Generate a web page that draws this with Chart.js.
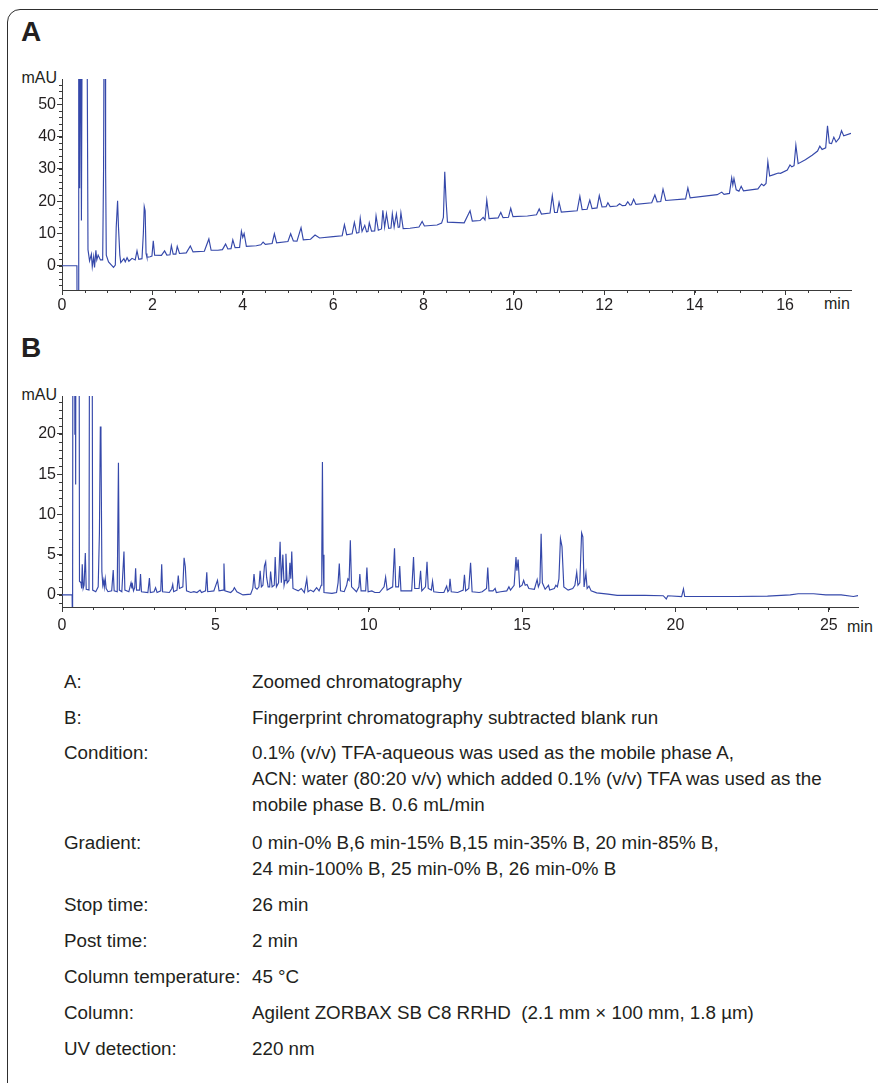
<!DOCTYPE html>
<html>
<head>
<meta charset="utf-8">
<script src="https://cdn.jsdelivr.net/npm/chart.js@4.4.1/dist/chart.umd.min.js"></script>
<style>
  html, body { margin: 0; padding: 0; background: #fff; }
  body { width: 878px; height: 1083px; position: relative; overflow: hidden;
         font-family: "Liberation Sans", Arial, sans-serif; color: #231f20; }
  .frame { position: absolute; left: 7px; top: 9px; width: 900px; height: 1100px;
           border: 1.5px solid #2e2e2e; border-radius: 13px; }
  .panel { position: absolute; left: 21px; font-weight: bold; font-size: 28px; line-height: 28px; }
  .unit { position: absolute; font-size: 16px; line-height: 16px; }
  canvas { position: absolute; left: 0; }
  .row { position: absolute; font-size: 18.8px; line-height: 26px; white-space: pre; }
  .lab { left: 64px; }
  .val { left: 252px; }
</style>
</head>
<body>
<div class="frame"></div>
<div class="panel" style="top:18px">A</div>
<div class="panel" style="top:334px">B</div>

<div class="unit" style="left:0;width:57px;text-align:right;top:70px">mAU</div>
<div class="unit" style="left:824px;top:296px">min</div>
<div class="unit" style="left:0;width:57px;text-align:right;top:387px">mAU</div>
<div class="unit" style="left:847px;top:619px">min</div>

<canvas id="chartA" width="878" height="270" style="top:60px"></canvas>
<canvas id="chartB" width="878" height="260" style="top:380px"></canvas>

<div id="notes"></div>

<script>
// panel A: zoomed chromatogram (time in min, signal in mAU)
const timeA = [0, 0.33, 0.335, 0.355, 0.37, 0.39, 0.41, 0.43, 0.45, 0.55, 0.575,
  0.61, 0.65, 0.67, 0.70, 0.72, 0.75, 0.77, 0.80, 0.85, 0.90, 0.92, 0.935, 0.955, 0.965, 0.98,
  1.03, 1.14, 1.18, 1.20, 1.23, 1.25, 1.28, 1.30, 1.37, 1.40, 1.44, 1.48, 1.55, 1.62, 1.66, 1.70,
  1.77, 1.80, 1.82, 1.84, 1.86, 1.88, 1.95, 1.99, 2.02, 2.05,
  2.2, 2.27, 2.32, 2.39, 2.42, 2.46, 2.52, 2.55, 2.6, 2.75, 2.84, 2.9, 3.15, 3.25, 3.3, 3.45,
  3.55, 3.62, 3.67, 3.74, 3.78, 3.83, 3.93, 3.97, 4.0, 4.03, 4.08, 4.3, 4.4, 4.45, 4.5, 4.65,
  4.70, 4.75, 5.0, 5.06, 5.12, 5.2, 5.29, 5.34, 5.5, 5.6, 5.7, 6.0, 6.2, 6.25, 6.3, 6.42,
  6.47, 6.52, 6.57, 6.60, 6.64, 6.70, 6.74, 6.77, 6.80, 6.85, 6.92, 6.95, 7.0, 7.07, 7.10,
  7.14, 7.18, 7.23, 7.28, 7.31, 7.35, 7.40, 7.44, 7.47, 7.50, 7.55, 7.7, 7.9, 7.97, 8.02,
  8.3, 8.4, 8.44, 8.47, 8.5, 8.53, 8.9, 9.03, 9.08, 9.25, 9.32, 9.36, 9.40, 9.45, 9.65, 9.71,
  9.76, 9.88, 9.93, 9.98, 10.3, 10.5, 10.56, 10.61, 10.8, 10.85, 10.9, 10.96, 11.0, 11.05,
  11.4, 11.46, 11.51, 11.62, 11.68, 11.73, 11.84, 11.89, 11.95, 12.04, 12.08, 12.13, 12.28,
  12.34, 12.4, 12.47, 12.52, 12.57, 12.6, 12.65, 12.7, 13.05, 13.12, 13.17, 13.25, 13.30,
  13.36, 13.8, 13.85, 13.9, 14.5, 14.6, 14.65, 14.77, 14.82, 14.845, 14.87, 14.92, 14.98,
  15.03, 15.08, 15.4, 15.48, 15.53, 15.58, 15.62, 15.66, 15.75, 15.85, 15.9, 16.05, 16.11,
  16.15, 16.2, 16.24, 16.29, 16.45, 16.6, 16.72, 16.77, 16.82, 16.9, 16.94, 16.98, 17.03,
  17.08, 17.13, 17.2, 17.25, 17.3, 17.46];
const mauA = [0, 0, -20, -20, 90, 24, 90, 14, 90, 90, 5,
  1.5, 3.6, -0.3, 2.8, -0.5, 4.8, 1.8, 3.3, 1.8, 1.8, 30, 90, 90, 30, 3.3,
  1.2, -0.5, 0.2, 12, 20.1, 12, 3.3, 1, 2.2, 1.2, 2.5, 1.4, 2.3, 1.8, 4.6, 2,
  2.2, 10, 18.3, 17, 3.8, 2.6, 2.8, 3, 7.7, 3.3,
  3.2, 4.6, 3.3, 3.4, 6.2, 3.6, 3.6, 6.0, 3.8, 4.0, 6.1, 4.3, 4.5, 8.3, 4.8, 4.8,
  5.0, 6.7, 5.2, 5.3, 8.0, 5.6, 5.7, 10.7, 8.8, 10.0, 6.0, 6.2, 6.5, 7.3, 6.6, 6.9,
  9.9, 7.1, 7.5, 9.9, 7.7, 7.6, 11.8, 8.0, 8.2, 9.5, 8.6, 9.0, 9.3, 12.7, 9.6, 9.9,
  13.4, 10.1, 10.3, 14.7, 10.6, 12.5, 10.5, 10.6, 13.3, 10.7, 10.8, 15.4, 11.0, 11.4, 17.2,
  12.0, 16.1, 11.6, 11.7, 16.1, 12.0, 16.0, 11.9, 12.0, 16.4, 11.5, 11.6, 12.0, 13.7, 12.3,
  12.6, 13.2, 15, 29.1, 20, 13.5, 13.3, 17.0, 13.8, 14.0, 15.0, 14.2, 20.3, 14.6, 14.8, 16.5,
  14.9, 15.0, 17.8, 15.2, 15.4, 15.8, 17.6, 16.0, 16.3, 21.7, 16.5, 16.5, 19.6, 16.6,
  17.0, 21.5, 17.4, 17.5, 20.3, 17.7, 17.9, 21.7, 18.2, 18.3, 19.5, 18.3, 18.5,
  19.2, 18.6, 18.7, 19.8, 18.8, 18.9, 20.6, 19.0, 19.5, 21.9, 19.8, 19.9, 23.7,
  20.2, 20.7, 24.1, 21.0, 22.0, 22.8, 22.1, 22.4, 27.2, 25, 27.0, 23.5, 23.1,
  24.6, 23.2, 23.8, 25.3, 24.8, 25.5, 32.2, 27.8, 28.2, 28.7, 28.6, 29.6, 31.2,
  30.6, 31, 37.3, 31.6, 32.8, 34.2, 35.5, 37.0, 36, 36.5, 43.3, 38, 37.8,
  39.8, 38.3, 39.5, 41.8, 40.2, 41];

// panel B: fingerprint chromatogram, blank subtracted
const timeB = [0, 0.33, 0.335, 0.355, 0.36, 0.4, 0.42, 0.435, 0.445, 0.46, 0.55, 0.57,
  0.62, 0.64, 0.66, 0.69, 0.72, 0.76, 0.79, 0.88, 0.91, 0.97, 1.0, 1.1, 1.18, 1.22, 1.25,
  1.27, 1.3, 1.33, 1.36, 1.38, 1.41, 1.44, 1.5, 1.62, 1.67, 1.7, 1.8, 1.84, 1.87, 1.95,
  2.02, 2.05, 2.18, 2.25, 2.28, 2.3, 2.33, 2.37, 2.4, 2.43, 2.53, 2.56, 2.59, 2.8, 2.85,
  2.88, 3.0, 3.05, 3.1, 3.22, 3.25, 3.28, 3.5, 3.58, 3.61, 3.64, 3.75, 3.79, 3.83, 3.94,
  3.98, 4.02, 4.06, 4.2, 4.3, 4.4, 4.5, 4.55, 4.68, 4.72, 4.75, 4.95, 5.07, 5.12, 5.25,
  5.28, 5.31, 5.5, 5.58, 5.62, 5.7, 5.9, 6.15, 6.22, 6.26, 6.3, 6.36, 6.42, 6.46, 6.5,
  6.55, 6.6, 6.64, 6.67, 6.72, 6.77, 6.8, 6.85, 6.92, 6.95, 6.99, 7.06, 7.11, 7.15, 7.2,
  7.24, 7.27, 7.3, 7.34, 7.4, 7.43, 7.46, 7.49, 7.53, 7.7, 7.8, 7.9, 7.98, 8.02, 8.1, 8.2,
  8.3, 8.38, 8.45, 8.47, 8.49, 8.51, 8.54, 8.8, 8.95, 9.0, 9.04, 9.08, 9.2, 9.28, 9.32,
  9.36, 9.4, 9.44, 9.6, 9.68, 9.71, 9.75, 9.9, 9.94, 9.98, 10.1, 10.2, 10.35, 10.5, 10.55,
  10.6, 10.78, 10.84, 10.88, 10.97, 11.01, 11.05, 11.25, 11.4, 11.46, 11.5, 11.64, 11.69,
  11.73, 11.85, 11.9, 11.94, 12.04, 12.08, 12.12, 12.3, 12.45, 12.54, 12.58, 12.62, 12.65,
  12.69, 12.9, 13.08, 13.12, 13.16, 13.26, 13.32, 13.37, 13.6, 13.7, 13.84, 13.88, 13.92,
  14.05, 14.12, 14.16, 14.3, 14.5, 14.57, 14.62, 14.74, 14.8, 14.83, 14.87, 14.92, 15.0,
  15.05, 15.1, 15.16, 15.22, 15.4, 15.49, 15.53, 15.58, 15.62, 15.66, 15.75, 15.86, 15.9,
  16.05, 16.1, 16.15, 16.2, 16.25, 16.3, 16.36, 16.5, 16.65, 16.72, 16.78, 16.82, 16.88,
  16.94, 16.98, 17.02, 17.08, 17.12, 17.18, 17.25, 17.43, 17.8, 18.1, 18.5, 19.0, 19.6,
  19.7, 19.75, 20.2, 20.26, 20.3, 21.0, 22.0, 23.0, 23.74, 24.0, 24.5, 24.9, 25.4, 25.8, 26];
const mauB = [0, 0, -5, -5, 60, 60, 19.9, 60, 13.7, 60, 60, 1.7,
  1.5, 0.8, 3.8, 0.8, 1.2, 5.2, 0.7, 0.6, 60, 60, 0.6, 0.4, 1.0, 7.7, 20.9,
  19.7, 2.9, 1.2, 1.8, 1.0, 2.0, 0.8, 0.4, 0.5, 3.1, 0.5, 0.4, 16.4, 0.6, 0.4,
  5.4, 0.6, 0.4, 1.5, 0.8, 1.2, 0.5, 0.9, 3.3, 0.6, 0.6, 2.6, 0.4, 0.3, 2.1,
  0.3, 0.4, 0.9, 0.3, 0.5, 3.8, 0.4, 0.3, 0.8, 1.3, 0.4, 0.6, 2.4, 0.8, 1.0,
  4.6, 3.5, 0.5, 0.3, 0.4, 0.3, 0.6, 0.3, 0.5, 2.8, 0.4, 0.5, 1.8, 0.5, 0.6,
  3.9, 0.5, 0.3, 0.6, 0.9, 0.4, 0.0, 0.1, 0.8, 2.6, 0.9, 0.7, 1.0, 3.0, 1.0,
  1.2, 3.6, 4.1, 2.2, 1.0, 1.0, 2.9, 1.0, 1.2, 4.7, 1.0, 1.5, 6.6, 1.5, 5.0,
  1.2, 1.8, 5.1, 1.5, 1.8, 4.0, 2.0, 5.4, 0.8, 0.5, 0.8, 0.3, 2.0, 0.4, 0.6, 0.4,
  0.9, 0.5, 1.2, 5.0, 16.5, 5, 0.3, 0.2, 0.3, 1.5, 3.9, 0.5, 0.4, 1.2, 2.0,
  1.8, 6.8, 1.0, 0.4, 1.0, 2.6, 0.5, 0.5, 3.4, 0.4, 0.5, 0.3, 0.3, 1.0, 2.2,
  0.6, 1.0, 5.8, 1.0, 1.0, 3.6, 0.5, 0.5, 0.5, 4.7, 0.8, 0.8, 3.0,
  0.5, 1.0, 4.1, 0.8, 0.6, 1.7, 0.4, 0.3, 0.3, 1.1, 0.4, 0.6, 2.0,
  0.4, 0.3, 0.6, 2.5, 0.5, 0.8, 4.0, 0.4, 0.3, 0.4, 0.8, 3.4, 0.5,
  0.5, 0.8, 0.3, 0.4, 0.5, 1.0, 0.6, 1.2, 4.7, 3.0, 4.4, 1.0, 1.2,
  1.8, 1.2, 1.3, 0.8, 0.7, 1.9, 1.0, 1.5, 7.6, 1.5, 0.7, 1.2, 0.6,
  0.8, 1.2, 1.0, 2.0, 7.0, 6.0, 1.0, 0.6, 0.8, 1.2, 2.8, 1.2, 1.5,
  7.7, 7.2, 1.0, 2.7, 0.8, 1.1, 0.5, 0.25, 0.1, -0.05, -0.05, -0.05, -0.1,
  -0.5, -0.1, -0.2, 0.75, -0.2, -0.2, -0.2, -0.15, 0.0, 0.15, 0.15, 0.0, 0.0, -0.2, -0.05];

// axis labels
const xTicksA = [0, 2, 4, 6, 8, 10, 12, 14, 16];
const yTicksA = [0, 10, 20, 30, 40, 50];
const xTicksB = [0, 5, 10, 15, 20, 25];
const yTicksB = [0, 5, 10, 15, 20];

// method notes under the charts
const noteLabels = ["A:", "B:", "Condition:", "Gradient:", "Stop time:", "Post time:",
  "Column temperature:", "Column:", "UV detection:"];
const noteValues = [
  ["Zoomed chromatography"],
  ["Fingerprint chromatography subtracted blank run"],
  ["0.1% (v/v) TFA-aqueous was used as the mobile phase A,",
   "ACN: water (80:20 v/v) which added 0.1% (v/v) TFA was used as the",
   "mobile phase B. 0.6 mL/min"],
  ["0 min-0% B,6 min-15% B,15 min-35% B, 20 min-85% B,",
   "24 min-100% B, 25 min-0% B, 26 min-0% B"],
  ["26 min"],
  ["2 min"],
  ["45 °C"],
  ["Agilent ZORBAX SB C8 RRHD  (2.1 mm × 100 mm, 1.8 µm)"],
  ["220 nm"]];
const noteTops = [669, 705, 740, 830, 892, 928, 964, 1000, 1036];

const AXIS = "#3a3a3a";
const LINE = "#3548aa";
const TEXT = "#231f20";
const tickFont = { family: "'Liberation Sans', Arial, sans-serif", size: 16 };

// short minor ticks between the labelled ones
const minorTicks = {
  id: "minorTicks",
  afterDraw(chart, args, opts) {
    const { ctx, scales: { x, y } } = chart;
    ctx.save();
    ctx.strokeStyle = AXIS;
    ctx.lineWidth = 1;
    ctx.beginPath();
    for (let i = Math.ceil(x.min / opts.xStep); i * opts.xStep <= x.max + 1e-9; i++) {
      const px = Math.round(x.getPixelForValue(i * opts.xStep)) + 0.5;
      ctx.moveTo(px, x.top);
      ctx.lineTo(px, x.top + 3);
    }
    for (let i = Math.ceil(y.min / opts.yStep); i * opts.yStep <= y.max + 1e-9; i++) {
      const py = Math.round(y.getPixelForValue(i * opts.yStep)) + 0.5;
      ctx.moveTo(y.right, py);
      ctx.lineTo(y.right - 3, py);
    }
    ctx.stroke();
    ctx.restore();
  }
};

function chromatogram(id, times, values, o) {
  const ctx = document.getElementById(id).getContext("2d");
  return new Chart(ctx, {
    type: "line",
    data: {
      datasets: [{
        data: times.map((t, i) => ({ x: t, y: values[i] })),
        borderColor: LINE, borderWidth: 1.15, pointRadius: 0, tension: 0
      }]
    },
    options: {
      responsive: false,
      animation: false,
      events: [],
      layout: { padding: o.pad },
      plugins: { legend: { display: false }, tooltip: { enabled: false }, minorTicks: o.minor },
      scales: {
        x: {
          type: "linear", min: o.xMin, max: o.xMax,
          afterBuildTicks: s => { s.ticks = o.xTicks.map(v => ({ value: v })); },
          afterFit: s => { s.height = o.xHeight; },
          grid: { drawOnChartArea: false, color: AXIS, tickLength: 5 },
          border: { color: AXIS },
          ticks: { font: tickFont, color: TEXT, padding: o.xPad, maxRotation: 0 }
        },
        y: {
          type: "linear", min: o.yMin, max: o.yMax,
          afterBuildTicks: s => { s.ticks = o.yTicks.map(v => ({ value: v })); },
          afterFit: s => { s.width = 62; },
          grid: { drawOnChartArea: false, color: AXIS, tickLength: 5 },
          border: { color: AXIS },
          ticks: { font: tickFont, color: TEXT, padding: 1 }
        }
      }
    },
    plugins: [minorTicks]
  });
}

chromatogram("chartA", timeA, mauA, {
  xMin: 0, xMax: 17.46, yMin: -7.5, yMax: 57.8,
  xTicks: xTicksA, yTicks: yTicksA,
  pad: { top: 19, right: 27, bottom: 0, left: 0 }, xHeight: 40, xPad: 1,
  minor: { xStep: 0.5, yStep: 2 }
});

chromatogram("chartB", timeB, mauB, {
  xMin: 0, xMax: 25.95, yMin: -1.5, yMax: 24.7,
  xTicks: xTicksB, yTicks: yTicksB,
  pad: { top: 16, right: 20, bottom: 0, left: 0 }, xHeight: 33, xPad: 4,
  minor: { xStep: 1, yStep: 1 }
});

const notes = document.getElementById("notes");
noteLabels.forEach((label, i) => {
  const lab = document.createElement("div");
  lab.className = "row lab";
  lab.style.top = noteTops[i] + "px";
  lab.textContent = label;
  notes.appendChild(lab);
  const val = document.createElement("div");
  val.className = "row val";
  val.style.top = noteTops[i] + "px";
  val.textContent = noteValues[i].join("\n");
  notes.appendChild(val);
});
</script>
</body>
</html>
